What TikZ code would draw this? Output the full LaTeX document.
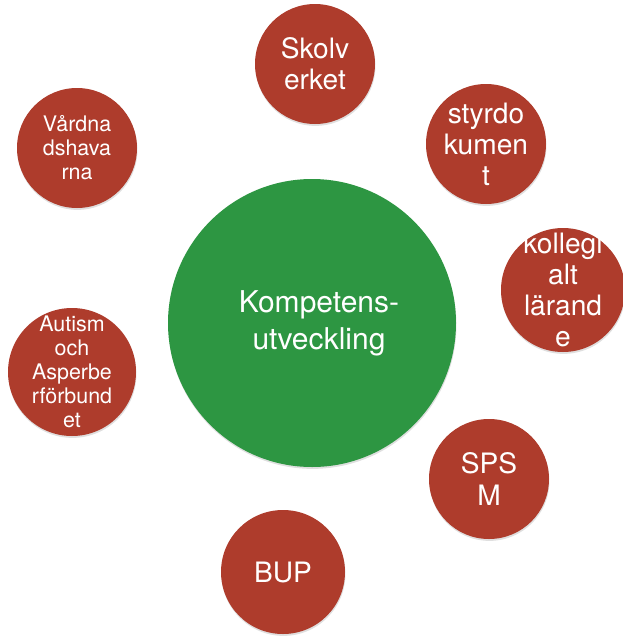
\documentclass[tikz,border=0pt]{standalone}
\usepackage{fontspec}
\setmainfont{TeX Gyre Heros}
\usetikzlibrary{shadows}

\definecolor{bubblered}{RGB}{174,60,44}
\definecolor{hubgreen}{RGB}{45,150,66}

\begin{document}
\begin{tikzpicture}[x=0.03cm,y=-0.03cm,
    bubble/.style={circle,fill=bubblered,inner sep=0pt,minimum size=120*0.03cm,
        drop shadow={opacity=0.25,shadow xshift=0.4pt,shadow yshift=-1.6pt}},
    hub/.style={circle,fill=hubgreen,inner sep=0pt,minimum size=288*0.03cm,
        drop shadow={opacity=0.25,shadow xshift=0.4pt,shadow yshift=-1.6pt}},
    words/.style={text=white,align=center,inner sep=0pt},
    big/.style={words,font=\fontsize{24}{26.5}\selectfont},
    small/.style={words,font=\fontsize{18.3}{20.5}\selectfont},
    huge/.style={words,font=\fontsize{25.6}{31.6}\selectfont}]

\useasboundingbox (0,0) rectangle (623,641);

\node [hub,label={[huge,xshift=7*0.03cm]center:{Kompetens-\\utveckling}}] (komp) at (312,323) {};

\node [bubble,label={[big]center:{Skolv\\erket}}] (skol) at (315,64) {};
\node [bubble,label={[big]center:{styrdo\\kumen\\t}}] (styr) at (486,144) {};
\node [bubble,label={[small]center:{Vårdna\\dshava\\rna}}] (vard) at (77,148) {};
\node [bubble,minimum size=124*0.03cm,label={[big]center:{kollegi\\alt\\lärand\\e}}] (koll) at (563,290) {};
\node [bubble,minimum size=128*0.03cm,label={[small]center:{Autism\\och\\Asperbe\\rförbund\\et}}] (aut) at (72,372) {};
\node [bubble,label={[big]center:{SPS\\M}}] (spsm) at (489,479) {};
\node [bubble,minimum size=124*0.03cm,label={[big]center:{BUP}}] (bup) at (283,572) {};

\end{tikzpicture}
\end{document}
